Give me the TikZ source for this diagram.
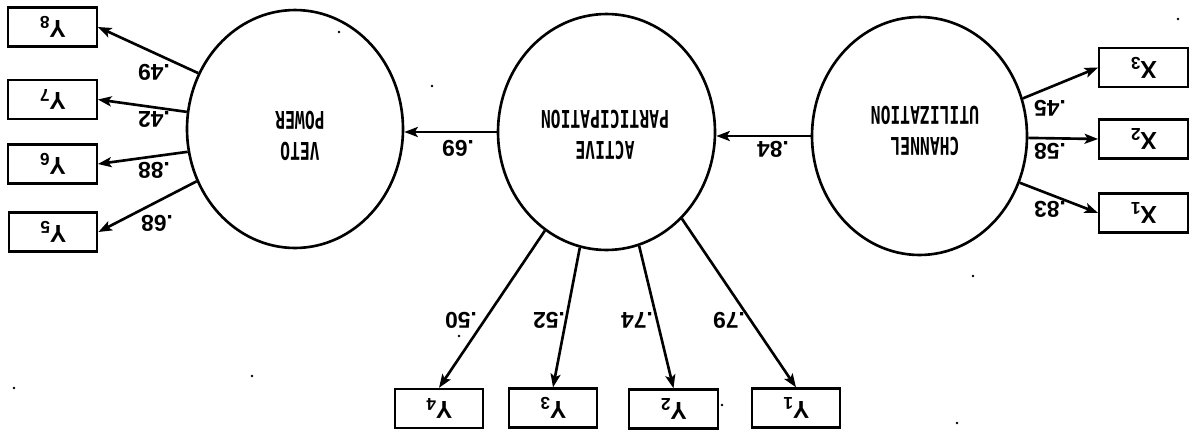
\documentclass[tikz,border=0pt]{standalone}
\usepackage{fontspec}
\setmainfont{Liberation Sans}
\newfontfamily\constructfont{DejaVu Sans Mono}
\usetikzlibrary{shapes.geometric,arrows.meta}

\newcommand{\tall}[1]{\scalebox{0.97}[1.45]{#1}}

\begin{document}
\begin{tikzpicture}[x=0.02cm,y=-0.02cm,line width=1.5pt,
  latent/.style={draw,ellipse,minimum width=4.32cm,minimum height=4.76cm,inner sep=0pt},
  indicator/.style={draw,rectangle,minimum width=1.77cm,minimum height=0.78cm,inner sep=0pt,
    line width=1.3pt,font=\bfseries\fontsize{14}{14}\selectfont},
  load/.style={-{Stealth[length=0.27cm,width=0.2cm,inset=0.06cm]}},
  coef/.style={rotate=180,inner sep=0pt,font=\bfseries\fontsize{13}{13}\selectfont},
  construct/.style={rotate=180,align=center,inner sep=0pt,
    font=\constructfont\bfseries\fontsize{9.6}{18}\selectfont}]

\useasboundingbox (0,0) rectangle (1196,430);

% latent constructs
\node[latent] (veto) at (295,129) {};
\node[latent,minimum width=4.34cm,minimum height=4.72cm] (active) at (606.5,132) {};
\node[latent,minimum width=4.30cm,minimum height=4.76cm] (chan) at (919.5,136) {};

\node[construct] (vetotxt) at (300,136) {\tall{VETO}\\\tall{POWER}};
\node[construct] (acttxt) at (605,135) {\tall{ACTIVE}\\\tall{PARTICIPATION}};
\node[construct] (chantxt) at (925,131) {\tall{CHANNEL}\\\tall{UTILIZATION}};

% observed indicators
\node[indicator] (y8) at (52.5,27)   {\rotatebox{180}{Y\textsubscript{8}}};
\node[indicator] (y7) at (52.5,99.5) {\rotatebox{180}{Y\textsubscript{7}}};
\node[indicator] (y6) at (52.5,164)  {\rotatebox{180}{Y\textsubscript{6}}};
\node[indicator] (y5) at (53,232)    {\rotatebox{180}{Y\textsubscript{5}}};

\node[indicator] (x3) at (1143.5,67.5) {\rotatebox{180}{X\textsubscript{3}}};
\node[indicator] (x2) at (1143.5,139)  {\rotatebox{180}{X\textsubscript{2}}};
\node[indicator] (x1) at (1143.5,213)  {\rotatebox{180}{X\textsubscript{1}}};

\node[indicator] (y4) at (439,408.5) {\rotatebox{180}{Y\textsubscript{4}}};
\node[indicator] (y3) at (553,408)   {\rotatebox{180}{Y\textsubscript{3}}};
\node[indicator] (y2) at (673.5,409) {\rotatebox{180}{Y\textsubscript{2}}};
\node[indicator] (y1) at (796,408)   {\rotatebox{180}{Y\textsubscript{1}}};

% structural paths
\draw[load] (chan.west) -- (active.east |- chan.west);
\draw[load] (active.west) -- (veto.east |- active.west);

% loadings
\draw[load] (veto.150) -- (y8.east);
\draw[load] (veto.171) -- (y7.east);
\draw[load] (veto.192) -- (y6.east);
\draw[load] (veto.208) -- (y5.east);

\draw[load] (chan.20) -- (x3.west);
\draw[load] (chan.359) -- (x2.west);
\draw[load] (chan.335) -- (x1.west);

\draw[load] (active.238) -- (y4.north);
\draw[load] (active.257) -- (y3.north);
\draw[load] (active.286) -- (y2.north);
\draw[load] (active.311) -- (y1.north);

% coefficients
\node[coef] (c49) at (154,72)  {.49};
\node[coef] (c42) at (154,119) {.42};
\node[coef] (c88) at (154,170) {.88};
\node[coef] (c68) at (157,223) {.68};
\node[coef] (c69) at (458,148) {.69};
\node[coef] (c84) at (773,149) {.84};
\node[coef] (c45) at (1050,108) {.45};
\node[coef] (c58) at (1050,151) {.58};
\node[coef] (c83) at (1050,209) {.83};
\node[coef] (c50) at (461,320) {.50};
\node[coef] (c52) at (549,320) {.52};
\node[coef] (c74) at (637,320) {.74};
\node[coef] (c79) at (729,320) {.79};

% specks on the sheet
\foreach \p in {(339,32),(432,86),(14,388),(252,376),(459,336),(722,405),(973,276),(957,423),(1178,19)}
  \fill \p circle (0.8pt);
\end{tikzpicture}
\end{document}
